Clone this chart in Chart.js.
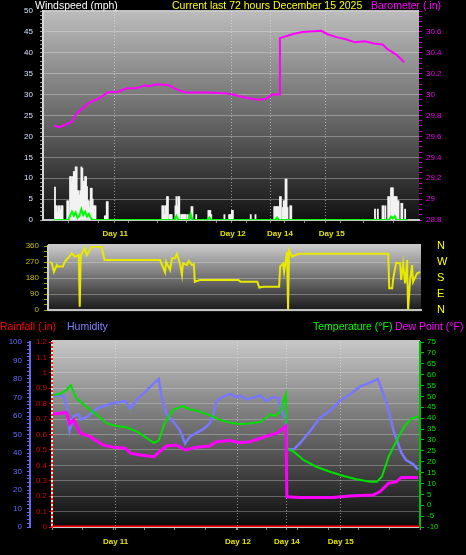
<!DOCTYPE html>
<html>
<head>
<meta charset="utf-8">
<script src="https://cdn.jsdelivr.net/npm/chart.js@4.4.1/dist/chart.umd.min.js"></script>
<style>
body { margin:0; background:#000; width:466px; height:555px; overflow:hidden; position:relative; font-family:"Liberation Sans", Arial, sans-serif; }
canvas { position:absolute; left:0; }
.t { position:absolute; font-size:10.5px; line-height:11px; white-space:nowrap; z-index:2; }
</style>
</head>
<body>
<div class="t" style="left:35px;top:0;color:#fff">Windspeed (mph)</div>
<div class="t" style="left:172px;top:0;color:#ffff00">Current last 72 hours December 15 2025</div>
<div class="t" style="left:371px;top:0;color:#ff00ff">Barometer (.in)</div>
<div class="t" style="left:0;top:321px;color:#ff0000">Rainfall (.in)</div>
<div class="t" style="left:67px;top:321px;color:#8080ff">Humidity</div>
<div class="t" style="left:313px;top:321px;color:#00ff00">Temperature (°F)</div>
<div class="t" style="left:395px;top:321px;color:#ff00ff">Dew Point (°F)</div>
<canvas id="c1" width="466" height="240" style="top:0"></canvas>
<canvas id="c2" width="466" height="80" style="top:240px"></canvas>
<canvas id="c3" width="466" height="235" style="top:320px"></canvas>
<script>
// x runs over sample number 0..376 (the logger skips hours, so days are not evenly spaced)
const X_END = 376;
const DAY_AT = [65, 190, 240, 295];
const DAY_NAMES = ['Day 11', 'Day 12', 'Day 14', 'Day 15'];

const MPH_TICKS = [0, 5, 10, 15, 20, 25, 30, 35, 40, 45, 50];
const BARO_TICKS = [28.8, 29, 29.2, 29.4, 29.6, 29.8, 30, 30.2, 30.4, 30.6];
const DIR_TICKS = [0, 90, 180, 270, 360];
const COMPASS = ['N', 'E', 'S', 'W', 'N'];
const HUM_TICKS = [0, 10, 20, 30, 40, 50, 60, 70, 80, 90, 100];
const RAIN_TICKS = [0, 0.1, 0.2, 0.3, 0.4, 0.5, 0.6, 0.7, 0.8, 0.9, 1, 1.1, 1.2];
const TEMP_TICKS = [-10, -5, 0, 5, 10, 15, 20, 25, 30, 35, 40, 45, 50, 55, 60, 65, 70, 75];

// wind gusts (white bars)
const gustX = [1,2,3,4,5,6,7,8,9,14,15,17,18,19,20,21,22,23,24,25,26,27,28,29,30,31,32,33,34,35,36,37,38,39,40,41,42,43,44,
  54,55,56,57,
  115,116,117,118,119,120,121,123,124,125,129,130,131,132,133,135,136,137,138,139,140,142,146,147,151,
  164,165,166,167,181,186,187,188,189,190,209,214,
  234,235,236,237,238,239,240,241,243,244,245,246,247,248,251,252,
  341,344,349,350,352,355,356,358,359,360,361,362,363,364,365,366,369,370,373];
const gustMph = [7.9,3.4,3.4,2.0,3.4,3.4,2.4,3.4,3.4,4.6,4.6,10.4,10.4,9.0,10.4,11.6,11.6,12.7,12.7,7.0,7.0,6.0,7.0,12.7,12.4,9.3,9.3,10.4,10.4,8.0,4.6,4.6,3.0,7.6,7.6,5.0,3.4,3.4,3.4,
  1.0,1.0,4.4,4.4,
  3.4,3.4,1.3,3.4,3.4,5.6,5.6,1.3,1.3,1.3,3.4,5.6,3.4,5.6,5.6,1.3,1.3,1.3,1.3,1.3,1.3,1.3,3.2,3.2,1.3,
  2.3,2.3,2.3,1.3,1.3,1.3,1.3,1.3,2.3,2.3,1.3,1.3,
  3.2,3.2,3.2,3.2,3.2,2.0,5.6,5.6,3.0,4.6,4.6,9.8,9.8,3.0,3.4,3.4,
  2.6,2.6,3.4,3.4,3.4,5.6,5.6,7.7,7.7,7.7,5.6,5.6,5.6,5.6,4.6,4.6,4.0,4.0,2.6];

// average wind speed (green)
const windX = [0,15,17,19,21,23,25,27,29,31,33,35,37,39,41,128,130,132,143,145,147,163,165,167,235,237,239,356,358,360,362,364,376];
const windMph = [0,0,1.0,2.0,1.0,1.8,0.5,1.0,2.6,1.2,2.0,0.8,1.5,0.5,0,0,1.0,0,0,1.5,0,0,0.6,0,0,0.6,0,0,0.8,0.4,0.9,0,0];

// barometer
const baroX = [0,7,19,24,37,47,57,69,77,87,97,100,110,122,130,140,154,164,184,190,204,217,225,232,239,240,254,264,284,290,300,310,320,330,340,349,355,364,372];
const baroIn = [29.70,29.69,29.74,29.82,29.92,29.96,30.02,30.03,30.06,30.06,30.09,30.08,30.10,30.09,30.05,30.02,30.02,30.02,30.01,30.00,29.97,29.95,29.96,30.00,30.00,30.54,30.58,30.60,30.61,30.58,30.55,30.53,30.50,30.51,30.49,30.48,30.43,30.38,30.31];

// wind direction
const dirX = [2,4,6,9,10,15,17,20,24,27,31,32,33,37,39,42,44,54,57,113,118,119,123,125,128,130,133,135,136,140,142,145,147,148,153,192,194,211,213,217,233,234,237,238,241,242,243,246,249,254,343,344,347,348,351,355,356,358,360,362,363,365,367,368,372,375];
const dirDeg = [272,262,215,253,244,244,272,291,319,300,309,19,305,347,309,337,356,356,281,281,212,272,225,291,291,316,262,197,262,253,277,253,258,159,169,169,159,159,126,131,131,244,262,215,328,0,337,300,309,316,316,122,122,178,266,262,169,258,150,281,0,169,253,159,206,215];

// rain, humidity, temperature, dew point
const rainX = [0, 376];
const rainIn = [0, 0];
const humX = [1,12,15,18,22,27,30,37,46,51,63,75,80,87,97,105,109,112,117,124,131,136,141,148,155,161,165,168,173,182,189,192,199,206,213,219,225,231,233,239,240,247,253,264,274,284,294,305,315,325,333,342,349,357,362,369,374];
const humPct = [71,71,65,52,60,61,58,60,64,65,67,68,64,69,74,78,80,70,61,57,52,45,49,51,53,56,61,68,70,72,70,71,69,70,71,68,70,70,65,58,42,42,45,52,59,63,68,72,76,78,80,67,52,40,36,34,31];
const tempX = [1,8,15,19,25,35,46,56,66,76,87,97,104,109,115,124,134,141,151,161,172,182,192,202,214,223,228,233,239,240,247,257,270,284,298,311,325,332,337,344,349,356,361,368,374];
const tempF = [50.7,51.1,53,55.2,49.1,45.3,41.5,37.6,36.4,35.8,33.8,30.8,28.7,29.7,37.6,43.8,45.6,44.1,43,41.5,39.2,37.9,37.3,37.6,38.4,41.9,41,43,51.1,26.2,24.6,20.8,17.7,15.4,13.4,11.9,10.8,10.8,13.1,22.3,26.9,33.1,36.9,40,40.7];
const dewX = [1,15,18,22,29,39,52,63,75,80,90,104,110,117,127,136,148,161,168,182,192,202,213,223,230,239,240,253,270,287,304,328,335,344,352,357,374];
const dewF = [41.9,42.5,37.3,39.2,33.1,31.5,27.7,26.6,26.2,23.9,23.1,22.3,24.6,27.2,27.7,25.4,26.6,27.2,29.2,29.7,28.7,29.2,30.8,32.3,33.1,36.4,3.9,3.6,3.5,3.5,4.2,4.7,6.2,10.1,10.8,12.8,12.8];

Chart.defaults.font.family = '"Liberation Sans", Arial, sans-serif';
Chart.defaults.font.size = 8;

function pts(xs, ys) {
  return xs.map(function(x, i) { return { x: x, y: ys[i] }; });
}
function has(list, v) {
  return list.some(function(b) { return Math.abs(b - v) < 1e-6; });
}
function stepTicks(lo, hi, step) {
  return function(s) {
    var t = [];
    var n = Math.round((hi - lo) / step);
    for (var k = 0; k <= n; k++) t.push({ value: Math.round((lo + k * step) * 1000) / 1000 });
    s.ticks = t;
  };
}
function listTicks(list) {
  return function(s) { s.ticks = list.map(function(v) { return { value: v }; }); };
}
// fixed axis width, and no label overhang pushing the plot area around
function fixW(w) {
  return function(s) { s.width = w; s.paddingTop = 0; s.paddingBottom = 0; };
}

const panelBg = {
  id: 'panelBg',
  beforeDraw: function(chart, args, o) {
    var ctx = chart.ctx, a = chart.chartArea;
    var g = ctx.createLinearGradient(0, a.top, 0, a.bottom);
    g.addColorStop(0, o.top);
    g.addColorStop(0.5, o.mid);
    g.addColorStop(1, o.bottom);
    ctx.save();
    ctx.fillStyle = g;
    ctx.fillRect(a.left, a.top - o.ext, a.right - a.left, a.bottom - a.top + 2 * o.ext);
    ctx.restore();
  }
};

const rainEdge = {
  id: 'rainEdge',
  afterDatasetsDraw: function(chart) {
    var s = chart.scales.rain, a = chart.chartArea, ctx = chart.ctx;
    ctx.save();
    ctx.strokeStyle = '#ff1818';
    ctx.lineWidth = 2;
    ctx.setLineDash([2, 2]);
    ctx.beginPath();
    ctx.moveTo(s.right, a.top);
    ctx.lineTo(s.right, a.bottom + 2);
    ctx.stroke();
    ctx.restore();
  }
};

function dayAxis(height, pad) {
  return {
    type: 'linear', min: 0, max: X_END,
    afterBuildTicks: function(s) {
      var t = [];
      for (var k = 0; k <= 12; k++) t.push(k * X_END / 12);
      s.ticks = t.concat(DAY_AT).sort(function(a, b) { return a - b; }).map(function(v) { return { value: v }; });
    },
    afterFit: function(s) { s.height = height; s.paddingLeft = 0; s.paddingRight = 0; },
    ticks: {
      autoSkip: false, maxRotation: 0, padding: pad, color: '#e2e200',
      font: { size: 8, weight: 'bold' },
      callback: function(v) { var i = DAY_AT.indexOf(v); return i < 0 ? '' : DAY_NAMES[i]; }
    },
    grid: {
      color: function(c) { return c.tick && DAY_AT.indexOf(c.tick.value) >= 0 ? 'rgba(235,235,235,0.55)' : 'rgba(0,0,0,0)'; },
      tickColor: '#8a8a8a', tickLength: 3
    },
    border: { color: '#c8c8c8', width: 2, dash: [1, 2] }
  };
}

const base = {
  responsive: false,
  animation: false,
  events: [],
  plugins: { legend: { display: false }, tooltip: { enabled: false } },
  elements: { point: { radius: 0 }, line: { tension: 0 } }
};

// ---- wind speed + barometer ----
new Chart(document.getElementById('c1'), {
  type: 'line',
  plugins: [panelBg],
  data: {
    datasets: [
      { type: 'line', data: pts(baroX, baroIn), yAxisID: 'baro', borderColor: '#ff00ff', borderWidth: 2 },
      { type: 'line', data: pts(windX, windMph), yAxisID: 'y', borderColor: '#00ff00', borderWidth: 2 },
      { type: 'bar', data: pts(gustX, gustMph), yAxisID: 'y', backgroundColor: '#f2f2f2', barThickness: 1.2, grouped: false }
    ]
  },
  options: Object.assign({}, base, {
    layout: { padding: { top: 11, left: 0, right: 0, bottom: 0 } },
    plugins: Object.assign({}, base.plugins, { panelBg: { top: '#bcbcbc', mid: '#6a6a6a', bottom: '#121212', ext: 1 } }),
    scales: {
      x: dayAxis(20, 6),
      y: {
        position: 'left', min: 0, max: 50,
        afterBuildTicks: stepTicks(0, 50, 1),
        afterFit: fixW(43),
        ticks: { autoSkip: false, color: '#d4e0ff', padding: 7, callback: function(v) { return has(MPH_TICKS, v) ? String(v) : ''; } },
        grid: {
          color: function(c) { return c.tick && has(MPH_TICKS, c.tick.value) && c.tick.value > 0 ? 'rgba(225,225,225,0.38)' : 'rgba(0,0,0,0)'; },
          tickColor: '#9a9a9a', tickLength: 3
        },
        border: { color: '#d6d6d6', width: 2 }
      },
      baro: {
        position: 'right', min: 28.8, max: 30.8,
        afterBuildTicks: stepTicks(28.8, 30.8, 0.05),
        afterFit: fixW(47),
        ticks: { autoSkip: false, color: '#f000f0', padding: 4, callback: function(v) { return has(BARO_TICKS, v) ? String(Math.round(v * 10) / 10) : ''; } },
        grid: { drawOnChartArea: false, tickColor: '#c000c0', tickLength: 3 },
        border: { display: false }
      }
    }
  })
});

// ---- wind direction ----
new Chart(document.getElementById('c2'), {
  type: 'line',
  plugins: [panelBg],
  data: {
    datasets: [
      { data: pts(dirX, dirDeg), yAxisID: 'y', borderColor: '#e8e800', borderWidth: 2 }
    ]
  },
  options: Object.assign({}, base, {
    layout: { padding: { top: 6, left: 0, right: 0, bottom: 0 } },
    plugins: Object.assign({}, base.plugins, { panelBg: { top: '#c8c8c8', mid: '#707070', bottom: '#1a1a1a', ext: 2 } }),
    scales: {
      x: {
        type: 'linear', min: 0, max: X_END,
        afterFit: function(s) { s.height = 10; s.paddingLeft = 0; s.paddingRight = 0; },
        ticks: { display: false },
        grid: { display: false },
        border: { color: '#c4c4c4', width: 2 }
      },
      y: {
        position: 'left', min: 0, max: 360,
        afterBuildTicks: stepTicks(0, 360, 30),
        afterFit: fixW(48),
        ticks: { autoSkip: false, color: '#c0c000', padding: 5, callback: function(v) { return has(DIR_TICKS, v) ? String(v) : ''; } },
        grid: {
          color: function(c) { return c.tick && has(DIR_TICKS, c.tick.value) && c.tick.value > 0 && c.tick.value < 360 ? 'rgba(225,225,225,0.35)' : 'rgba(0,0,0,0)'; },
          tickColor: '#a0a000', tickLength: 4
        },
        border: { color: '#d0d0d0', width: 2 }
      },
      compass: {
        position: 'right', min: 0, max: 360,
        afterBuildTicks: listTicks(DIR_TICKS),
        afterFit: fixW(45),
        ticks: { autoSkip: false, color: '#ffff00', padding: 16, font: { size: 11 }, callback: function(v) { return COMPASS[DIR_TICKS.indexOf(v)]; } },
        grid: { drawOnChartArea: false, drawTicks: false },
        border: { display: false }
      }
    }
  })
});

// ---- rain, humidity, temperature, dew point ----
new Chart(document.getElementById('c3'), {
  type: 'line',
  plugins: [panelBg, rainEdge],
  data: {
    datasets: [
      { data: pts(rainX, rainIn), yAxisID: 'rain', borderColor: '#ff0000', borderWidth: 3 },
      { data: pts(dewX, dewF), yAxisID: 'temp', borderColor: '#ff00ff', borderWidth: 3 },
      { data: pts(tempX, tempF), yAxisID: 'temp', borderColor: '#00e000', borderWidth: 2 },
      { data: pts(humX, humPct), yAxisID: 'hum', borderColor: '#7878ff', borderWidth: 2.5 }
    ]
  },
  options: Object.assign({}, base, {
    layout: { padding: { top: 22, left: 0, right: 0, bottom: 0 } },
    plugins: Object.assign({}, base.plugins, { panelBg: { top: '#c6c6c6', mid: '#686868', bottom: '#0a0a0a', ext: 2 } }),
    scales: {
      x: dayAxis(28, 7),
      rain: {
        position: 'left', weight: 0, min: 0, max: 1.2,
        afterBuildTicks: listTicks(RAIN_TICKS),
        afterFit: fixW(22),
        ticks: { autoSkip: false, color: '#dd0000', padding: 2, callback: function(v) { return String(v); } },
        grid: {
          color: function(c) { return c.tick && c.tick.value > 0 && c.tick.value < 1.2 ? 'rgba(225,225,225,0.33)' : 'rgba(0,0,0,0)'; },
          tickColor: '#dd0000', tickLength: 3
        },
        border: { color: '#e4e4e4', width: 2 }
      },
      hum: {
        position: 'left', weight: 1, min: 0, max: 100,
        afterBuildTicks: stepTicks(0, 100, 2),
        afterFit: fixW(30),
        ticks: { autoSkip: false, color: '#6a6aff', padding: 5, callback: function(v) { return has(HUM_TICKS, v) ? String(v) : ''; } },
        grid: { drawOnChartArea: false, tickColor: '#6a6af0', tickLength: 3 },
        border: { color: '#6a6af0', width: 2 }
      },
      temp: {
        position: 'right', min: -10, max: 75,
        afterBuildTicks: listTicks(TEMP_TICKS),
        afterFit: fixW(46),
        ticks: { autoSkip: false, color: '#00dd00', padding: 3, callback: function(v) { return String(v); } },
        grid: { drawOnChartArea: false, tickColor: '#00c000', tickLength: 4 },
        border: { color: '#00c000', width: 2 }
      }
    }
  })
});
</script>
</body>
</html>
